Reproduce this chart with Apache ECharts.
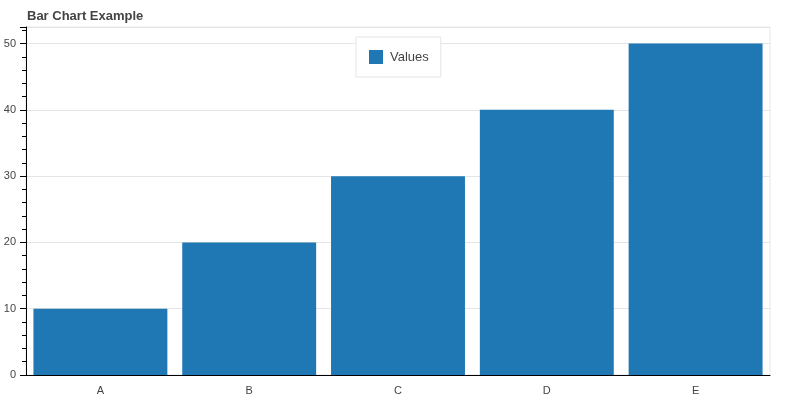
<!DOCTYPE html>
<html>
<head>
<meta charset="utf-8">
<script src="https://cdn.jsdelivr.net/npm/echarts@6/dist/echarts.min.js"></script>
<style>html,body{margin:0;padding:0;background:#fff}#c{width:800px;height:400px}</style>
</head>
<body>
<div id="c"></div>
<script>
const categories = ['A', 'B', 'C', 'D', 'E'];
const values = [10, 20, 30, 40, 50];
const seriesName = 'Values';
const titleText = 'Bar Chart Example';

const chart = echarts.init(document.getElementById('c'), null, {renderer: 'canvas'});
chart.setOption({
  animation: false,
  title: {
    text: titleText, left: 22, top: 5,
    textStyle: {fontFamily: 'Liberation Sans, Arial, sans-serif', fontSize: 13, fontWeight: 'bold', color: '#444'}
  },
  legend: {
    data: [seriesName], left: 356, top: 37,
    padding: [13, 12, 13, 13],
    itemWidth: 14, itemHeight: 14, itemGap: 10,
    borderColor: '#e5e5e5', borderWidth: 1, backgroundColor: '#fff',
    icon: 'rect',
    textStyle: {fontFamily: 'Liberation Sans, Arial, sans-serif', fontSize: 13, color: '#444', padding: [0, 0, 0, 2]}
  },
  grid: {left: 26, right: 30, top: 27, bottom: 25, show: true, borderColor: '#e5e5e5', borderWidth: 1, containLabel: false},
  xAxis: [{
    type: 'category', data: categories,
    axisLine: {lineStyle: {color: '#000', width: 1}},
    axisTick: {alignWithLabel: true, length: 6, lineStyle: {color: '#000'}},
    axisLabel: {color: '#444', fontSize: 11, margin: 10, fontFamily: 'Liberation Sans, Arial, sans-serif'},
    splitLine: {show: false}
  }, {
    type: 'category', data: categories, position: 'bottom', offset: 0,
    axisLine: {show: false},
    axisTick: {alignWithLabel: true, inside: true, length: 2, lineStyle: {color: '#000'}},
    axisLabel: {show: false},
    splitLine: {show: false}
  }],
  yAxis: {
    type: 'value', min: 0, max: 52.5, interval: 10,
    axisLine: {show: true, lineStyle: {color: '#000', width: 1}},
    axisTick: {show: true, length: 6, lineStyle: {color: '#000'}},
    minorTick: {show: true, splitNumber: 5, length: 4, lineStyle: {color: '#000'}},
    axisLabel: {color: '#444', fontSize: 11, margin: 10, fontFamily: 'Liberation Sans, Arial, sans-serif',
      showMaxLabel: false},
    splitLine: {show: true, lineStyle: {color: '#e5e5e5'}}
  },
  series: [{
    name: seriesName, type: 'bar', data: values, xAxisIndex: 0,
    barCategoryGap: '10%',
    itemStyle: {color: '#1f77b4'}
  }]
});
</script>
</body>
</html>
